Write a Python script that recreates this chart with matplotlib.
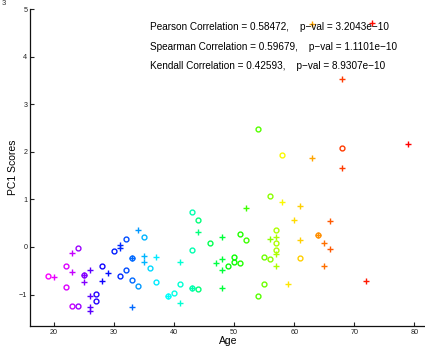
import numpy as np
import matplotlib
matplotlib.use('Agg')
import matplotlib.pyplot as plt

plt.rcParams['font.family'] = ['Liberation Sans', 'DejaVu Sans']

# group 1 (circles)
circle_age = [19, 22, 22, 23, 24, 24, 25, 27, 27, 28, 30, 31, 32, 32, 33, 33, 34, 35, 36, 37,
              39, 40, 41, 43, 43, 43, 44, 44, 46, 49, 50, 50, 51, 51, 52, 54, 54, 55, 55, 56,
              56, 57, 57, 57, 58, 61, 64, 68]
circle_pc1 = [-0.60, -0.39, -0.84, -1.23, -1.23, -0.03, -0.59, -0.98, -1.13, -0.40, -0.08, -0.61,
              0.16, -0.49, -0.23, -0.70, -0.81, 0.20, -0.45, -0.74, -1.02, -0.96, -0.77, 0.74,
              -0.06, -0.87, 0.56, -0.88, 0.08, -0.39, -0.20, -0.32, -0.34, 0.28, 0.15, 2.48,
              -1.02, -0.20, -0.78, 1.08, -0.25, 0.36, 0.08, -0.06, 1.94, -0.23, 0.26, 2.07]

# group 2 (pluses)
plus_age = [20, 23, 23, 25, 25, 26, 26, 26, 26, 28, 29, 31, 31, 33, 33, 34, 35, 35, 37, 39,
            41, 41, 43, 44, 47, 48, 48, 48, 48, 52, 56, 57, 57, 57, 58, 59, 60, 61, 61, 63,
            63, 64, 65, 65, 66, 66, 68, 68, 72, 73, 79]
plus_pc1 = [-0.63, -0.13, -0.52, -0.59, -0.74, -0.49, -1.02, -1.27, -1.35, -0.71, -0.55, 0.04,
            -0.03, -0.23, -1.27, 0.36, -0.18, -0.31, -0.21, -1.02, -0.32, -1.17, -0.87, 0.32,
            -0.34, 0.22, -0.25, -0.48, -0.87, 0.81, 0.16, 0.22, -0.15, -0.39, 0.95, -0.78,
            0.57, 0.86, 0.15, 4.68, 1.88, 0.26, 0.08, -0.39, 0.55, -0.04, 3.53, 1.66, -0.72,
            4.71, 2.17]

stats_lines = ['Pearson Correlation = 0.58472,    p\u2212val = 3.2043e\u221210',
               'Spearman Correlation = 0.59679,    p\u2212val = 1.1101e\u221210',
               'Kendall Correlation = 0.42593,    p\u2212val = 8.9307e\u221210']

# colour by age rank through hsv (magenta -> red)
all_age = np.sort(np.array(circle_age + plus_age))
def age_color(a):
    r = np.searchsorted(all_age, a) / (len(all_age) - 1)
    return plt.cm.hsv(0.84 * (1 - r))

fig = plt.figure(figsize=(4.25, 3.47), dpi=100)
ax = fig.add_axes([0.071, 0.0605, 0.929, 0.9135])

for a, v in zip(circle_age, circle_pc1):
    ax.plot(a, v, 'o', mfc='none', mec=age_color(a), ms=3.5, mew=1.0)
for a, v in zip(plus_age, plus_pc1):
    ax.plot(a, v, '+', color=age_color(a), ms=4.0, mew=1.0)

ax.set_xlim(16, 81.8)
ax.set_ylim(-1.66, 5)
ax.set_xticks([20, 30, 40, 50, 60, 70, 80])
ax.set_yticks([-1, 0, 1, 2, 3, 4, 5])
ax.set_yticklabels(['\u22121', '0', '1', '2', '3', '4', '5'])
ax.tick_params(direction='in', length=3, width=0.8, labelsize=5.2, pad=2, colors='#222222')
ax.spines['top'].set_visible(False)
ax.spines['right'].set_visible(False)
for s in ['left', 'bottom']:
    ax.spines[s].set_linewidth(0.9)
    ax.spines[s].set_color('#111111')

for i, line in enumerate(stats_lines):
    ax.text(35.9, 4.615 - i * 0.405, line, fontsize=7.2, va='center', ha='left')

fig.text(228 / 425, 1 - 341 / 347, 'Age', fontsize=7.5, ha='center', va='center')
fig.text(13 / 425, 1 - 167 / 347, 'PC1 Scores', fontsize=7.5, ha='center', va='center',
         rotation=90)
fig.text(0.004, 0.999, '3', fontsize=5.5, ha='left', va='top', color='#333333')

fig.savefig('out.png', dpi=100)
